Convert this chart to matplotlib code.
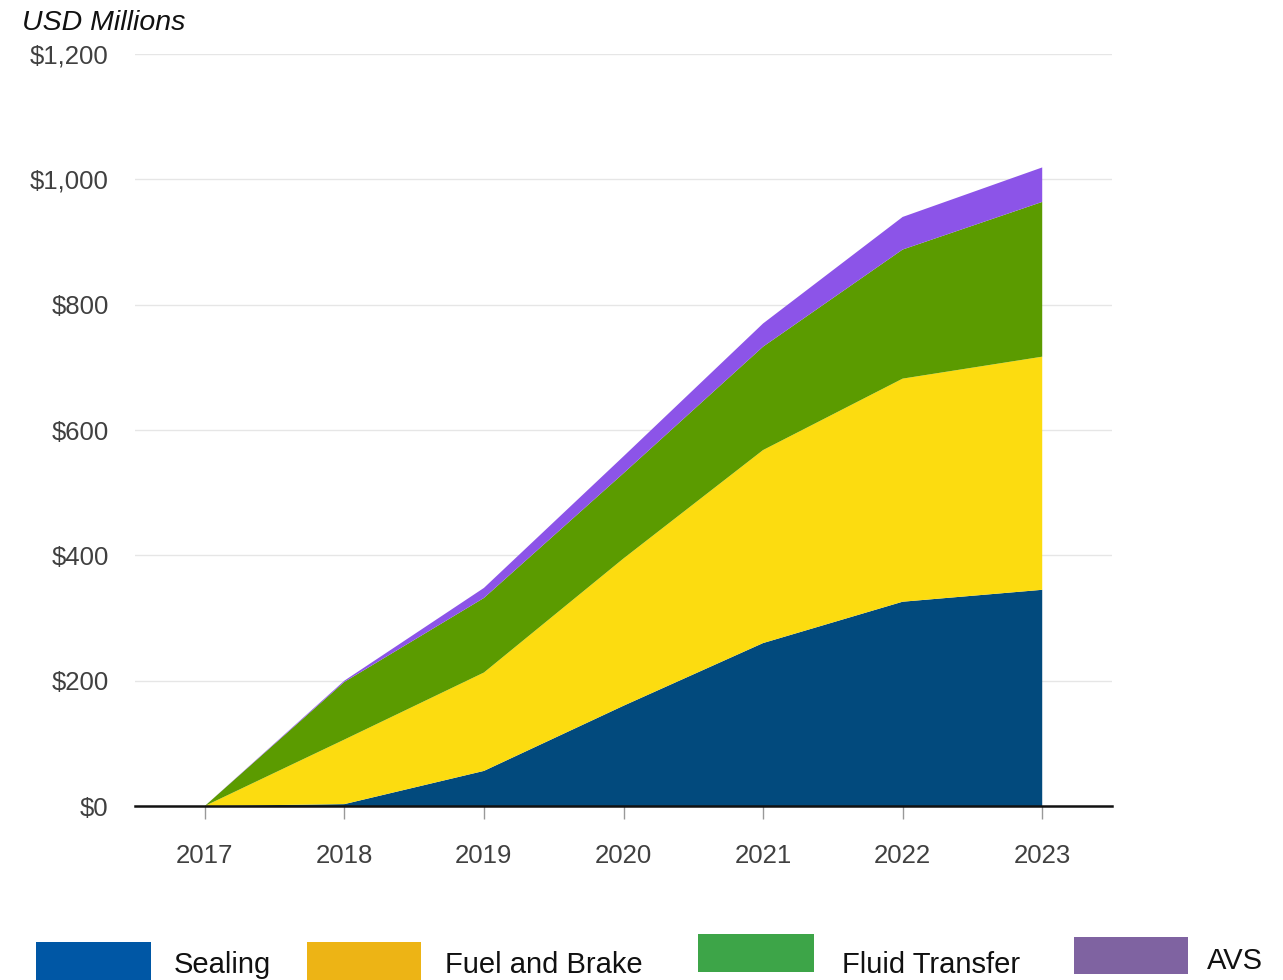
import matplotlib
matplotlib.use("Agg")
import matplotlib.pyplot as plt
from matplotlib.patches import Rectangle
from matplotlib.ticker import FuncFormatter

plt.rcParams['font.family'] = ['Liberation Sans', 'DejaVu Sans']

years = [2017, 2018, 2019, 2020, 2021, 2022, 2023]
sealing = [0, 3, 56, 160, 260, 326, 345]
fuel_brake = [0, 103, 157, 235, 308, 356, 372]
fluid_transfer = [0, 92, 119, 136, 165, 206, 247]
avs = [0, 2, 16, 27, 37, 52, 55]

series_names = ["Sealing", "Fuel and Brake", "Fluid Transfer", "AVS"]
area_colors = ["#024A7D", "#FCDC10", "#5B9B00", "#8C54E8"]
legend_colors = ["#0057A5", "#EDB415", "#3DA548", "#7F63A1"]
y_ticks = [0, 200, 400, 600, 800, 1000, 1200]

W, H = 1283, 980
fig = plt.figure(figsize=(W / 100, H / 100), dpi=100)
ax = fig.add_axes([135 / W, 1 - 806 / H, (1112 - 135) / W, (806 - 54) / H])

ax.stackplot(years, sealing, fuel_brake, fluid_transfer, avs,
             colors=area_colors, linewidth=0, zorder=2)

ax.set_xlim(2016.5, 2023.5)
ax.set_ylim(0, 1200)
ax.set_yticks(y_ticks)
ax.set_xticks(years)
ax.set_xticklabels([str(y) for y in years])
ax.yaxis.set_major_formatter(FuncFormatter(lambda v, p: "${:,.0f}".format(v)))

for v in y_ticks[1:]:
    ax.axhline(v, color="#e6e6e6", linewidth=1, zorder=1)
ax.axhline(0, color="#111111", linewidth=1.8, zorder=3, clip_on=False)

for s in ax.spines.values():
    s.set_visible(False)

ax.tick_params(axis="y", length=0, pad=19, labelsize=18.5, labelcolor="#404040")
ax.tick_params(axis="x", length=9, width=1, color="#999999", pad=18,
               labelsize=18.5, labelcolor="#404040")

fig.text(22 / W, 1 - 30 / H, "USD Millions", fontsize=20.5, style="italic",
         color="#111111", ha="left", va="baseline")

# legend
boxes = [(36, 942, 151, 980), (307, 942, 421, 980), (698, 934, 814, 972), (1074, 937, 1188, 974)]
text_pos = [(174, 973), (445, 973), (842, 973), (1207, 969)]
for (x0, y0, x1, y1), (tx, ty), name, col in zip(boxes, text_pos, series_names, legend_colors):
    fig.patches.append(Rectangle((x0 / W, 1 - y1 / H), (x1 - x0) / W, (y1 - y0) / H,
                                 transform=fig.transFigure, facecolor=col, edgecolor="none"))
    fig.text(tx / W, 1 - ty / H, name, fontsize=21, color="#111111",
             ha="left", va="baseline")

fig.savefig("out.png", dpi=100)
